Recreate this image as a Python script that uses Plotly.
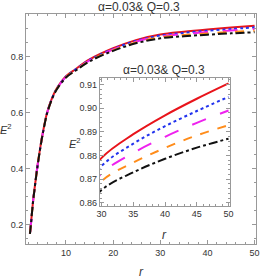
import plotly.graph_objects as go

r = [2.35, 2.5, 3, 3.5, 4, 4.5, 5, 6, 7, 8, 10, 12, 15, 20, 25, 30, 35, 40, 45, 50]
e2_red = [0.167, 0.19, 0.28, 0.35, 0.415, 0.47, 0.52, 0.60, 0.65, 0.685, 0.73, 0.755, 0.79, 0.83, 0.86, 0.879, 0.889, 0.897, 0.904, 0.9105]
e2_blue = [0.1667, 0.1897, 0.2797, 0.3496, 0.4145, 0.4695, 0.5194, 0.5993, 0.6492, 0.6841, 0.7289, 0.7536, 0.7883, 0.8277, 0.8571, 0.8756, 0.8850, 0.8924, 0.8988, 0.9048]
e2_magenta = [0.1665, 0.1894, 0.2793, 0.3492, 0.4141, 0.4690, 0.5189, 0.5986, 0.6484, 0.6832, 0.7277, 0.7523, 0.7866, 0.8255, 0.8543, 0.8724, 0.8811, 0.8879, 0.8938, 0.8990]
e2_orange = [0.1662, 0.1891, 0.2790, 0.3488, 0.4136, 0.4684, 0.5183, 0.5979, 0.6476, 0.6822, 0.7265, 0.7509, 0.7848, 0.8231, 0.8514, 0.8692, 0.8770, 0.8832, 0.8885, 0.8928]
e2_black = [0.1659, 0.1888, 0.2786, 0.3484, 0.4132, 0.4679, 0.5177, 0.5972, 0.6468, 0.6813, 0.7254, 0.7495, 0.7831, 0.8208, 0.8485, 0.8654, 0.8729, 0.8786, 0.8833, 0.8871]

series = [
    (e2_red, "#e8141b", "solid"),
    (e2_blue, "#2233ee", "dot"),
    (e2_magenta, "#ee22ee", "longdash"),
    (e2_orange, "#ff8c1a", "dash"),
    (e2_black, "#111111", "dashdot"),
]

title_text = "α=0.03& Q=0.3"
FONT = "Liberation Sans Narrow, Liberation Sans, Arial"

fig = go.Figure()
for ys, col, dash in series:
    fig.add_trace(go.Scatter(x=r, y=ys, mode="lines", line=dict(color=col, width=2, dash=dash, shape="spline"),
                             xaxis="x", yaxis="y", showlegend=False, hoverinfo="skip"))
for ys, col, dash in series:
    fig.add_trace(go.Scatter(x=r, y=ys, mode="lines", line=dict(color=col, width=2, dash=dash, shape="spline"),
                             xaxis="x2", yaxis="y2", showlegend=False, hoverinfo="skip"))

ax_common = dict(showline=True, linecolor="#999999", linewidth=1, mirror="allticks", ticks="inside",
                 tickcolor="#999999", showgrid=False, zeroline=False,
                 tickfont=dict(family=FONT, size=9, color="#333333"))

fig.update_layout(
    width=266, height=280,
    margin=dict(l=26, r=6, t=14, b=36),
    paper_bgcolor="white", plot_bgcolor="white",
    showlegend=False,
    xaxis=dict(range=[1.52, 50.3], tickvals=[10, 20, 30, 40, 50], ticklen=4,
               minor=dict(dtick=2, tick0=0, ticklen=2, ticks="inside", tickcolor="#999999"),
               **ax_common),
    yaxis=dict(range=[0.13, 0.9525], tickvals=[0.2, 0.4, 0.6, 0.8], ticklen=4,
               minor=dict(dtick=0.05, tick0=0, ticklen=2, ticks="inside", tickcolor="#999999"),
               **ax_common),
    xaxis2=dict(domain=[0.3205, 0.886], anchor="y2", range=[29.7, 50.2], tickvals=[30, 35, 40, 45, 50], ticklen=4,
                minor=dict(dtick=1, tick0=0, ticklen=2, ticks="inside", tickcolor="#999999"),
                **ax_common),
    yaxis2=dict(domain=[0.167, 0.722], anchor="x2", range=[0.8588, 0.9128],
                tickvals=[0.86, 0.87, 0.88, 0.89, 0.90, 0.91], ticktext=["0.86", "0.87", "0.88", "0.89", "0.90", "0.91"], ticklen=4,
                minor=dict(dtick=0.002, tick0=0, ticklen=2, ticks="inside", tickcolor="#999999"),
                **ax_common),
    annotations=[
        dict(text=title_text, xref="paper", yref="paper", x=0.49, y=1.0, yshift=7, showarrow=False,
             xanchor="center", yanchor="middle", font=dict(family=FONT, size=12, color="#333333")),
        dict(text="<i>r</i>", xref="paper", yref="paper", x=0.5, y=0, yshift=-28, showarrow=False,
             xanchor="center", yanchor="middle", font=dict(family=FONT, size=12, color="#333333")),
        dict(text="<i>E</i><sup>2</sup>", xref="paper", yref="paper", x=0, xshift=-20, y=0.5, showarrow=False,
             xanchor="center", yanchor="middle", font=dict(family=FONT, size=11, color="#333333")),
        dict(text=title_text, xref="paper", yref="paper", x=0.6, y=0.722, yshift=8, showarrow=False,
             xanchor="center", yanchor="middle", font=dict(family=FONT, size=12, color="#333333")),
        dict(text="<i>r</i>", xref="paper", yref="paper", x=0.6, y=0.167, yshift=-29, showarrow=False,
             xanchor="center", yanchor="middle", font=dict(family=FONT, size=12, color="#333333")),
        dict(text="<i>E</i><sup>2</sup>", xref="paper", yref="paper", x=0.3205, xshift=-25, y=0.44, showarrow=False,
             xanchor="center", yanchor="middle", font=dict(family=FONT, size=11, color="#333333")),
    ],
)

fig.write_html("out.html", config={"displayModeBar": False},
               post_script="document.body.style.margin='0';document.body.style.padding='0';")
